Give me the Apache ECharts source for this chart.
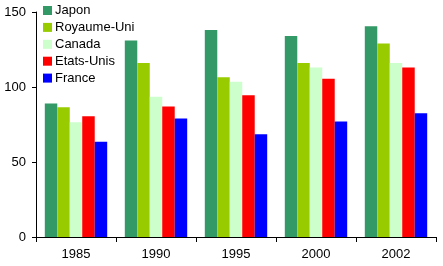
<!DOCTYPE html>
<html>
<head>
<meta charset="utf-8">
<script src="https://cdn.jsdelivr.net/npm/echarts@6/dist/echarts.min.js"></script>
<style>html,body{margin:0;padding:0;background:#fff}#c{width:443px;height:266px}</style>
</head>
<body>
<div id="c"></div>
<script>
var categories = ['1985', '1990', '1995', '2000', '2002'];
var seriesNames = ['Japon', 'Royaume-Uni', 'Canada', 'Etats-Unis', 'France'];
var japon = [89, 131, 138, 134, 140.5];
var royaumeUni = [86.5, 116, 106.5, 116, 129];
var canada = [76.5, 93.5, 103.5, 113, 116];
var etatsUnis = [80.5, 87, 94.5, 105.5, 113];
var france = [63.5, 79, 68.5, 77, 82.5];
var colors = ['#339966', '#99CC00', '#CCFFCC', '#FF0000', '#0000FF'];
var values = [japon, royaumeUni, canada, etatsUnis, france];

var chart = echarts.init(document.getElementById('c'), null, {renderer: 'canvas'});
var font = 'Arial, "Liberation Sans", sans-serif';
chart.setOption({
  animation: false,
  textStyle: {fontFamily: font},
  legend: {
    orient: 'vertical',
    left: 43,
    top: 4,
    padding: 0,
    itemWidth: 9,
    itemHeight: 9,
    itemGap: 3.9,
    icon: 'rect',
    textStyle: {fontSize: 13, color: '#000', fontFamily: font, padding: [0, 0, 0, -2]},
    data: seriesNames
  },
  grid: {left: 36, right: 7, top: 12, bottom: 29, containLabel: false},
  xAxis: {
    type: 'category',
    data: categories,
    boundaryGap: true,
    axisLine: {lineStyle: {color: '#000', width: 1}},
    axisTick: {show: true, length: 5, lineStyle: {color: '#000'}},
    axisLabel: {fontSize: 13, color: '#000', margin: 11, fontFamily: font},
    splitLine: {show: false}
  },
  yAxis: {
    type: 'value',
    min: 0, max: 150, interval: 50,
    axisLine: {show: true, lineStyle: {color: '#000', width: 1}},
    axisTick: {show: true, length: 4, lineStyle: {color: '#000'}},
    axisLabel: {fontSize: 13, color: '#000', margin: 10, fontFamily: font},
    splitLine: {show: false}
  },
  series: seriesNames.map(function (n, i) {
    return {
      name: n,
      type: 'bar',
      data: values[i],
      barGap: '0%',
      barCategoryGap: '22%',
      itemStyle: {color: colors[i]}
    };
  })
});
</script>
</body>
</html>
